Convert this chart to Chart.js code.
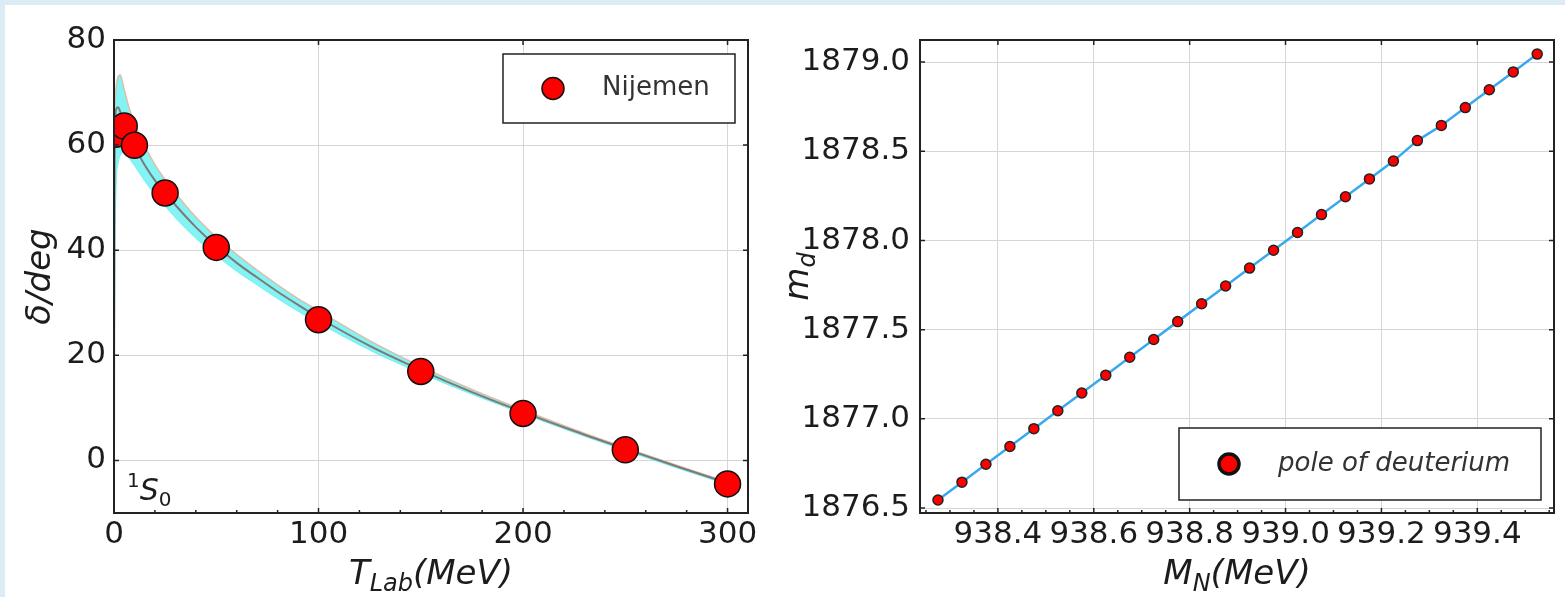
<!DOCTYPE html>
<html>
<head>
<meta charset="utf-8">
<script src="https://cdn.jsdelivr.net/npm/chart.js@4.4.0/dist/chart.umd.min.js"></script>
<style>
  body { margin: 0; background: #dcecf5; width: 1565px; height: 597px; overflow: hidden; }
  #sheet { position: absolute; left: 5px; top: 5px; width: 1560px; height: 592px; background: #fff; }
  #left { position: absolute; left: 0; top: 0; width: 775px; height: 597px; }
  #right { position: absolute; left: 775px; top: 0; width: 790px; height: 597px; }
</style>
</head>
<body>
<div id="sheet"></div>
<div id="left"><canvas id="phase"></canvas></div>
<div id="right"><canvas id="pole"></canvas></div>
<script>
// left panel: 1S0 phase shift
var tLab = [1, 5, 10, 25, 50, 100, 150, 200, 250, 300];
var nijmegen = [62.07, 63.63, 59.96, 50.90, 40.54, 26.78, 16.94, 8.94, 2.04, -4.46];

var tCurve = [0, 0.2, 0.5, 1, 2, 3, 5, 7, 10, 15, 20, 25, 30, 40, 50, 60, 70, 80, 90, 100, 125, 150, 175, 200, 225, 250, 275, 300];
var deltaMid = [0, 50, 63, 66.8, 67.2, 66.4, 64.2, 62.2, 59.8, 56.2, 53.3, 50.9, 48.6, 44.4, 40.8, 37.6, 34.8, 32.1, 29.6, 27.2, 21.8, 17.2, 13.0, 9.2, 5.6, 2.2, -1.1, -4.3];
var deltaUp = [0, 60, 68, 71, 73, 73.4, 70.6, 67.6, 64.2, 59.8, 56.3, 53.4, 50.9, 46.3, 42.5, 39.2, 36.2, 33.4, 30.8, 28.5, 22.8, 17.9, 13.5, 9.6, 5.9, 2.4, -0.9, -4.1];
var deltaLow = [0, 20, 40, 52, 56.5, 58, 58.6, 57.7, 56.1, 53.2, 50.6, 48.4, 46.2, 42.3, 39.0, 36.0, 33.4, 30.8, 28.4, 26.2, 21.0, 16.6, 12.6, 8.9, 5.3, 1.9, -1.4, -4.6];

var tTicks = [0, 100, 200, 300];
var deltaTicks = [0, 20, 40, 60, 80];

// right panel: deuteron pole vs nucleon mass
var massN = [938.275, 938.325, 938.375, 938.425, 938.475, 938.525, 938.575, 938.625, 938.675, 938.725,
  938.775, 938.825, 938.875, 938.925, 938.975, 939.025, 939.075, 939.125, 939.175, 939.225,
  939.275, 939.325, 939.375, 939.425, 939.475, 939.525];
var massD = [1876.545, 1876.645, 1876.745, 1876.845, 1876.945, 1877.045, 1877.145, 1877.245, 1877.345, 1877.445,
  1877.545, 1877.645, 1877.745, 1877.845, 1877.945, 1878.045, 1878.145, 1878.245, 1878.345, 1878.445,
  1878.560, 1878.645, 1878.745, 1878.845, 1878.945, 1879.045];

var mnTicks = [938.4, 938.6, 938.8, 939.0, 939.2, 939.4];
var mdTicks = [1876.5, 1877.0, 1877.5, 1878.0, 1878.5, 1879.0];

var FONT = "'DejaVu Sans', sans-serif";
var INK = '#1c1c1c';

function xy(xs, ys) {
  return xs.map(function (x, i) { return { x: x, y: ys[i] }; });
}

function fixTicks(list) {
  return function (scale) { scale.ticks = list.map(function (v) { return { value: v }; }); };
}

// draw a run of text pieces (sub/superscripts) centred on x
function drawParts(ctx, parts, x, y, align) {
  var w = 0;
  parts.forEach(function (p) {
    ctx.font = (p.italic ? 'italic ' : '') + p.size + 'px ' + FONT;
    p.w = ctx.measureText(p.t).width;
    w += p.w;
  });
  var cx = align === 'left' ? x : x - w / 2;
  ctx.textBaseline = 'alphabetic';
  ctx.textAlign = 'left';
  parts.forEach(function (p) {
    ctx.font = (p.italic ? 'italic ' : '') + p.size + 'px ' + FONT;
    ctx.fillText(p.t, cx, y + (p.dy || 0));
    cx += p.w;
  });
}

var framePlugin = {
  id: 'frame',
  afterDatasetsDraw: function (chart, args, opts) {
    var ctx = chart.ctx, a = chart.chartArea;
    var xs = chart.scales.x, ys = chart.scales.y;
    ctx.save();
    ctx.strokeStyle = '#222';
    ctx.lineWidth = 1.5;
    ctx.beginPath();
    // major ticks, inward, on all sides
    xs.ticks.forEach(function (t) {
      var px = xs.getPixelForValue(t.value);
      ctx.moveTo(px, a.bottom); ctx.lineTo(px, a.bottom - 5);
      ctx.moveTo(px, a.top); ctx.lineTo(px, a.top + 5);
    });
    ys.ticks.forEach(function (t) {
      var py = ys.getPixelForValue(t.value);
      ctx.moveTo(a.left, py); ctx.lineTo(a.left + 5, py);
      ctx.moveTo(a.right, py); ctx.lineTo(a.right - 5, py);
    });
    // minor ticks on the bottom axis
    var step = opts.minorX;
    var v = Math.ceil(xs.min / step) * step;
    for (; v < xs.max; v += step) {
      var px2 = xs.getPixelForValue(v);
      ctx.moveTo(px2, a.bottom); ctx.lineTo(px2, a.bottom - 3);
    }
    ctx.stroke();
    ctx.lineWidth = 2;
    ctx.strokeRect(a.left, a.top, a.right - a.left, a.bottom - a.top);

    // legend box
    var L = opts.legend;
    var bx = a.right - 13 - L.w;
    var by = L.fromBottom ? a.bottom - 13 - L.h : a.top + 14;
    ctx.fillStyle = '#fff';
    ctx.fillRect(bx, by, L.w, L.h);
    ctx.lineWidth = 1.5;
    ctx.strokeStyle = '#222';
    ctx.strokeRect(bx, by, L.w, L.h);
    ctx.beginPath();
    ctx.arc(bx + 50, by + L.h / 2, L.r, 0, Math.PI * 2);
    ctx.fillStyle = '#ff0000';
    ctx.fill();
    ctx.lineWidth = L.ring;
    ctx.strokeStyle = '#111';
    ctx.stroke();
    ctx.fillStyle = '#333';
    ctx.font = (L.italic ? 'italic ' : '') + '26px ' + FONT;
    ctx.textBaseline = 'middle';
    ctx.textAlign = 'left';
    ctx.fillText(L.text, bx + 99, by + L.h / 2);

    // axis titles
    ctx.fillStyle = INK;
    var midX = (a.left + a.right) / 2, midY = (a.top + a.bottom) / 2;
    drawParts(ctx, opts.xTitle, midX, 584);
    ctx.save();
    ctx.translate(opts.yTitleX, midY);
    ctx.rotate(-Math.PI / 2);
    drawParts(ctx, opts.yTitle, 0, 0);
    ctx.restore();
    if (opts.note) drawParts(ctx, opts.note, a.left + 13, a.bottom - 13, 'left');
    ctx.restore();
  }
};

Chart.defaults.font.family = FONT;
Chart.defaults.color = INK;
Chart.defaults.animation = false;

var gridStyle = { color: '#d6d6d6', lineWidth: 1, drawTicks: false };

new Chart(document.getElementById('phase'), {
  type: 'scatter',
  data: {
    datasets: [
      {
        label: 'Nijemen', data: xy(tLab, nijmegen),
        pointRadius: 13, pointBackgroundColor: '#ff0000', pointBorderColor: '#111', pointBorderWidth: 1.5
      },
      {
        label: 'mid', data: xy(tCurve, deltaMid), showLine: true, pointRadius: 0,
        borderColor: '#7d7a78', borderWidth: 2, cubicInterpolationMode: 'monotone'
      },
      {
        label: 'up', data: xy(tCurve, deltaUp), showLine: true, pointRadius: 0,
        borderColor: 'rgba(225,185,160,0.9)', borderWidth: 1.5, cubicInterpolationMode: 'monotone',
        fill: '+1', backgroundColor: 'rgba(100,240,240,0.8)'
      },
      {
        label: 'low', data: xy(tCurve, deltaLow), showLine: true, pointRadius: 0,
        borderColor: 'rgba(100,240,240,0.9)', borderWidth: 1, cubicInterpolationMode: 'monotone'
      }
    ]
  },
  options: {
    responsive: true,
    maintainAspectRatio: false,
    layout: { padding: { top: 40, right: 27, left: 0, bottom: 0 } },
    scales: {
      x: {
        type: 'linear', min: 0, max: 310,
        afterBuildTicks: fixTicks(tTicks),
        afterFit: function (s) { s.height = 84; },
        grid: gridStyle, border: { display: false },
        ticks: { font: { size: 31 }, padding: 3, maxRotation: 0, autoSkip: false, color: INK }
      },
      y: {
        type: 'linear', min: -10, max: 80,
        afterBuildTicks: fixTicks(deltaTicks),
        afterFit: function (s) { s.width = 114; },
        grid: gridStyle, border: { display: false },
        ticks: { font: { size: 31 }, padding: 8, color: INK }
      }
    },
    plugins: {
      legend: { display: false },
      tooltip: { enabled: false },
      frame: {
        minorX: 20,
        legend: { w: 232, h: 69, r: 11, ring: 1.5, text: 'Nijemen', italic: false },
        xTitle: [
          { t: 'T', size: 34, italic: true },
          { t: 'Lab', size: 24, italic: true, dy: 7 },
          { t: '(MeV)', size: 34, italic: true }
        ],
        yTitle: [{ t: 'δ/deg', size: 34, italic: true }],
        yTitleX: 50,
        note: [
          { t: '1', size: 20, dy: -13 },
          { t: 'S', size: 30, italic: true },
          { t: '0', size: 20, dy: 6 }
        ]
      }
    }
  },
  plugins: [framePlugin]
});

new Chart(document.getElementById('pole'), {
  type: 'scatter',
  data: {
    datasets: [{
      label: 'pole of deuterium', data: xy(massN, massD), showLine: true,
      borderColor: '#3aa8ee', borderWidth: 2.5,
      pointRadius: 5, pointBackgroundColor: '#ff0000', pointBorderColor: '#222', pointBorderWidth: 1.5
    }]
  },
  options: {
    responsive: true,
    maintainAspectRatio: false,
    layout: { padding: { top: 40, right: 11, left: 0, bottom: 0 } },
    scales: {
      x: {
        type: 'linear', min: 938.2375, max: 939.56,
        afterBuildTicks: fixTicks(mnTicks),
        afterFit: function (s) { s.height = 84; },
        grid: gridStyle, border: { display: false },
        ticks: {
          font: { size: 31 }, padding: 3, maxRotation: 0, minRotation: 0, autoSkip: false, color: INK,
          callback: function (v) { return Number(v).toFixed(1); }
        }
      },
      y: {
        type: 'linear', min: 1876.472, max: 1879.124,
        afterBuildTicks: fixTicks(mdTicks),
        afterFit: function (s) { s.width = 145; },
        grid: gridStyle, border: { display: false },
        ticks: {
          font: { size: 31 }, padding: 10, color: INK,
          callback: function (v) { return Number(v).toFixed(1); }
        }
      }
    },
    plugins: {
      legend: { display: false },
      tooltip: { enabled: false },
      frame: {
        minorX: 0.05,
        legend: { w: 362, h: 72, r: 10, ring: 3.5, text: 'pole of deuterium', italic: true, fromBottom: true },
        xTitle: [
          { t: 'M', size: 34, italic: true },
          { t: 'N', size: 24, italic: true, dy: 7 },
          { t: '(MeV)', size: 34, italic: true }
        ],
        yTitle: [
          { t: 'm', size: 34, italic: true },
          { t: 'd', size: 24, italic: true, dy: 7 }
        ],
        yTitleX: 33
      }
    }
  },
  plugins: [framePlugin]
});
</script>
</body>
</html>
